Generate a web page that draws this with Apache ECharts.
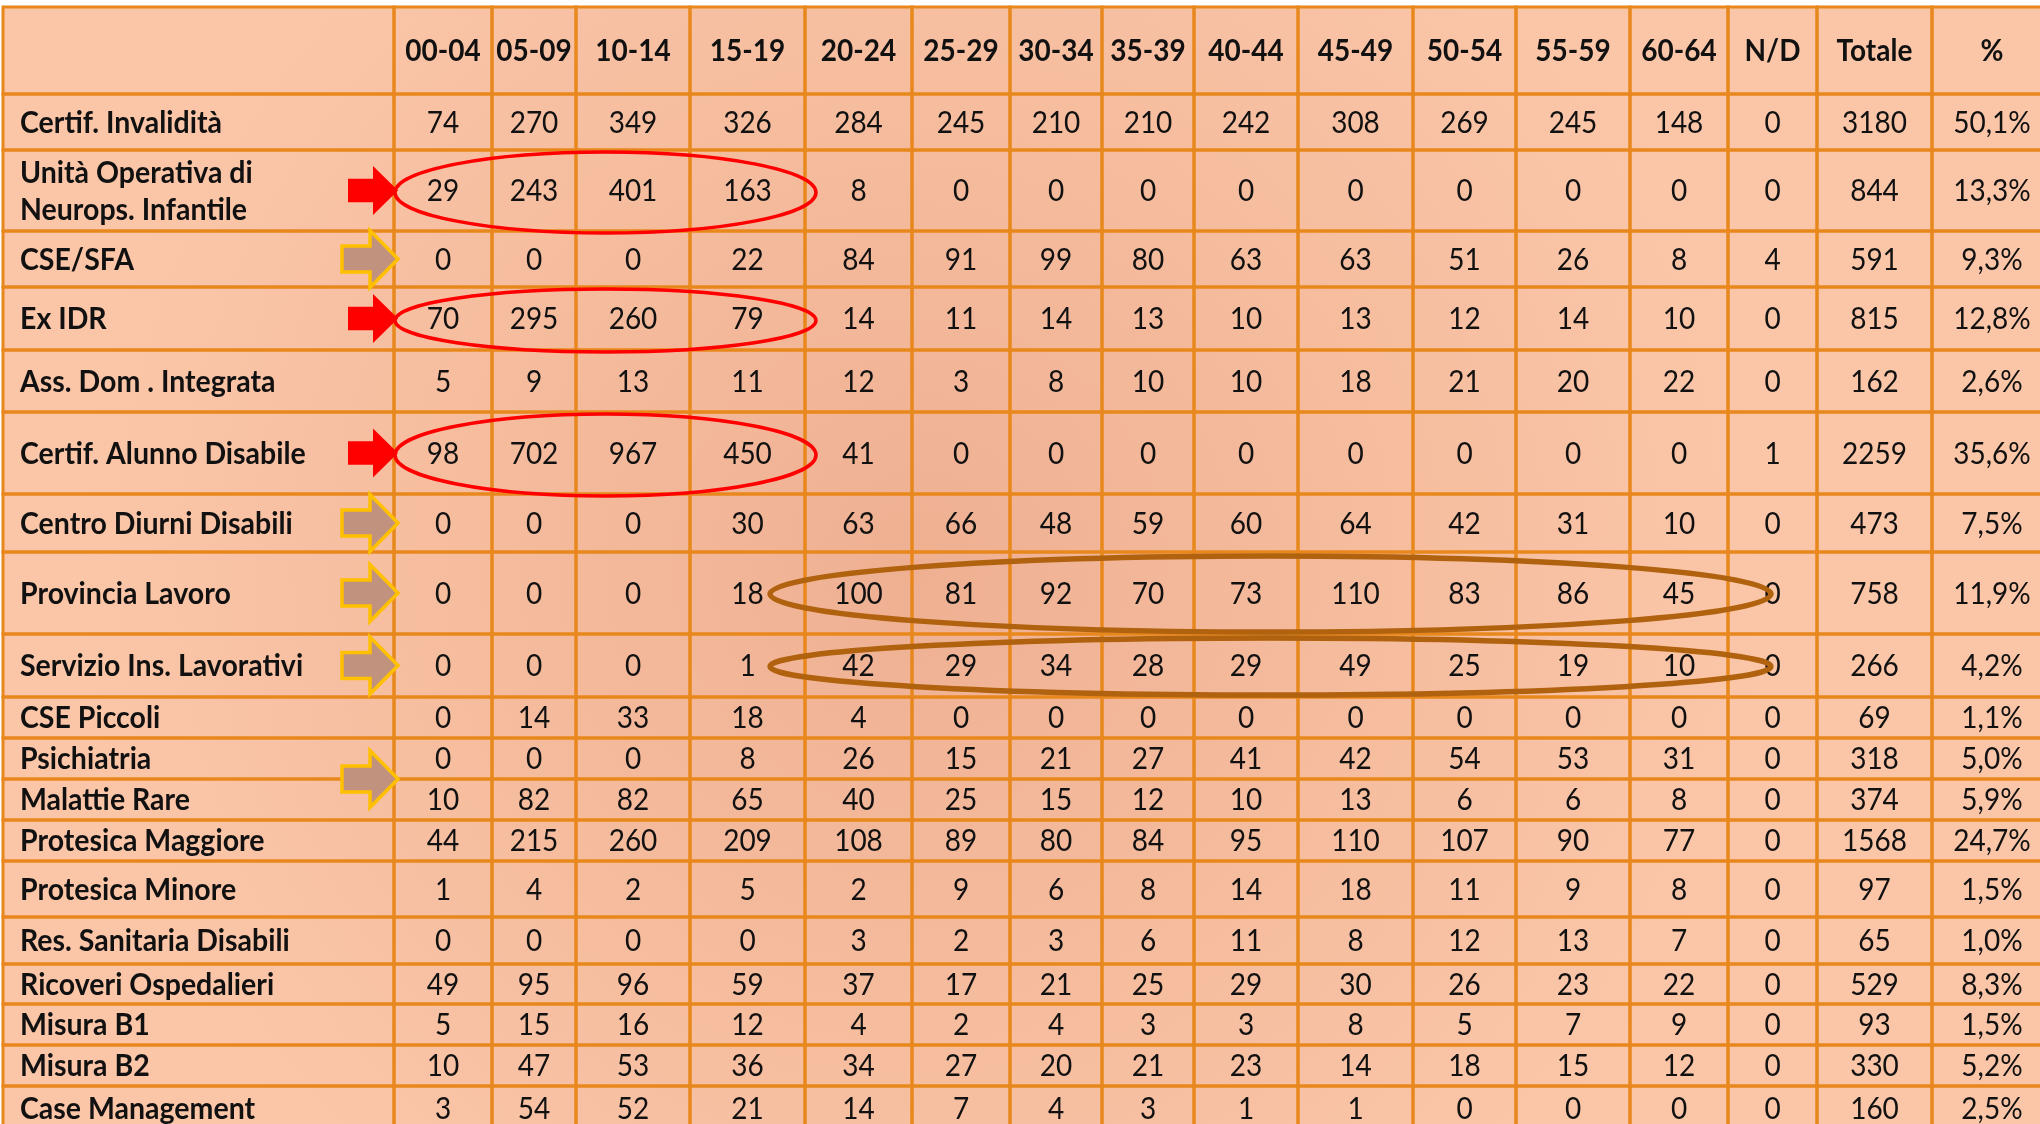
<!DOCTYPE html>
<html>
<head>
<meta charset="utf-8">
<script src="https://cdn.jsdelivr.net/npm/echarts@6/dist/echarts.min.js"></script>
<style>
html, body { margin: 0; padding: 0; background: #fff; }
#chart { width: 2040px; height: 1124px; }
</style>
</head>
<body>
<div id="chart"></div>
<script>
// fasce d'età (colonne)
var ageGroups = ['00-04', '05-09', '10-14', '15-19', '20-24', '25-29', '30-34', '35-39', '40-44', '45-49', '50-54', '55-59', '60-64', 'N/D'];
// servizi (righe)
var services = [
    'Certif. Invalidità',
    'Unità Operativa di\nNeurops. Infantile',
    'CSE/SFA',
    'Ex IDR',
    'Ass. Dom . Integrata',
    'Certif. Alunno Disabile',
    'Centro Diurni Disabili',
    'Provincia Lavoro',
    'Servizio Ins. Lavorativi',
    'CSE Piccoli',
    'Psichiatria',
    'Malattie Rare',
    'Protesica Maggiore',
    'Protesica Minore',
    'Res. Sanitaria Disabili',
    'Ricoveri Ospedalieri',
    'Misura B1',
    'Misura B2',
    'Case Management'
];
var counts = [
    [74, 270, 349, 326, 284, 245, 210, 210, 242, 308, 269, 245, 148, 0],
    [29, 243, 401, 163, 8, 0, 0, 0, 0, 0, 0, 0, 0, 0],
    [0, 0, 0, 22, 84, 91, 99, 80, 63, 63, 51, 26, 8, 4],
    [70, 295, 260, 79, 14, 11, 14, 13, 10, 13, 12, 14, 10, 0],
    [5, 9, 13, 11, 12, 3, 8, 10, 10, 18, 21, 20, 22, 0],
    [98, 702, 967, 450, 41, 0, 0, 0, 0, 0, 0, 0, 0, 1],
    [0, 0, 0, 30, 63, 66, 48, 59, 60, 64, 42, 31, 10, 0],
    [0, 0, 0, 18, 100, 81, 92, 70, 73, 110, 83, 86, 45, 0],
    [0, 0, 0, 1, 42, 29, 34, 28, 29, 49, 25, 19, 10, 0],
    [0, 14, 33, 18, 4, 0, 0, 0, 0, 0, 0, 0, 0, 0],
    [0, 0, 0, 8, 26, 15, 21, 27, 41, 42, 54, 53, 31, 0],
    [10, 82, 82, 65, 40, 25, 15, 12, 10, 13, 6, 6, 8, 0],
    [44, 215, 260, 209, 108, 89, 80, 84, 95, 110, 107, 90, 77, 0],
    [1, 4, 2, 5, 2, 9, 6, 8, 14, 18, 11, 9, 8, 0],
    [0, 0, 0, 0, 3, 2, 3, 6, 11, 8, 12, 13, 7, 0],
    [49, 95, 96, 59, 37, 17, 21, 25, 29, 30, 26, 23, 22, 0],
    [5, 15, 16, 12, 4, 2, 4, 3, 3, 8, 5, 7, 9, 0],
    [10, 47, 53, 36, 34, 27, 20, 21, 23, 14, 18, 15, 12, 0],
    [3, 54, 52, 21, 14, 7, 4, 3, 1, 1, 0, 0, 0, 0]
];
var totals = [3180, 844, 591, 815, 162, 2259, 473, 758, 266, 69, 318, 374, 1568, 97, 65, 529, 93, 330, 160];
var percents = ['50,1%', '13,3%', '9,3%', '12,8%', '2,6%', '35,6%', '7,5%', '11,9%', '4,2%', '1,1%', '5,0%', '5,9%', '24,7%', '1,5%', '1,0%', '8,3%', '1,5%', '5,2%', '2,5%'];

// evidenziazioni: righe con frecce e gruppi di colonne cerchiati
var redArrowRows = [1, 3, 5];
var brownArrowRows = [2, 6, 7, 8, 10.5];
var redCircled = { rows: [1, 3, 5], from: 0, to: 3 };
var brownCircled = { rows: [7, 8], from: 4, to: 12 };

var headers = [''].concat(ageGroups, ['Totale', '%']);

// griglia della tabella (px)
var colEdges = [3, 394, 492, 576, 690, 805, 912, 1010, 1102, 1194, 1298, 1413, 1516, 1630, 1728, 1817, 1932, 2052];
var rowEdges = [7, 94, 150, 231, 287, 350, 412, 494, 552, 634, 697, 738, 779, 820, 861, 917, 964, 1004, 1045, 1086, 1130];

var FONT = 'Lato';
var LINE = '#e8871c';

function cellText(c, r) {
    if (r === 0) return headers[c];
    var i = r - 1;
    if (c === 0) return services[i];
    if (c <= ageGroups.length) return String(counts[i][c - 1]);
    if (c === ageGroups.length + 1) return String(totals[i]);
    return percents[i];
}

var cellData = [];
for (var r = 0; r < rowEdges.length - 1; r++) {
    for (var c = 0; c < colEdges.length - 1; c++) {
        cellData.push([c, r]);
    }
}

function renderCell(params, api) {
    var c = api.value(0), r = api.value(1);
    var p0 = api.coord([colEdges[c], rowEdges[r]]);
    var p1 = api.coord([colEdges[c + 1], rowEdges[r + 1]]);
    var isLabel = c === 0 && r > 0;
    var bold = r === 0 || isLabel;
    return {
        type: 'group',
        children: [{
            type: 'rect',
            shape: { x: p0[0], y: p0[1], width: p1[0] - p0[0], height: p1[1] - p0[1] },
            style: { fill: 'none', stroke: LINE, lineWidth: 3 }
        }, {
            type: 'text',
            x: isLabel ? p0[0] + 17 : (p0[0] + p1[0]) / 2,
            y: (p0[1] + p1[1]) / 2 + 1,
            scaleY: isLabel ? 1.08 : 1.1,
            style: {
                text: cellText(c, r),
                fill: '#111',
                fontFamily: FONT,
                fontWeight: bold ? 'bold' : 'normal',
                fontSize: isLabel ? 28.5 : 28,
                lineHeight: 35,
                align: isLabel ? 'left' : 'center',
                verticalAlign: 'middle'
            }
        }]
    };
}

// y al centro della riga (x.5 = bordo tra due righe)
function rowMid(row) {
    var t = Math.floor(row) + 1;
    if (row % 1) return rowEdges[t + 1];
    return (rowEdges[t] + rowEdges[t + 1]) / 2;
}

var arrowData = [];
redArrowRows.forEach(function (row) { arrowData.push([row, 0]); });
brownArrowRows.forEach(function (row) { arrowData.push([row, 1]); });

function renderArrow(params, api) {
    var row = api.value(0), brown = api.value(1) === 1;
    var tip = api.coord([colEdges[1] + 4, rowMid(row)]);
    var w = brown ? 56 : 50, h = brown ? 57 : 49;
    var head = brown ? 28 : 25, sh = (brown ? 0.46 : 0.48) * h / 2;
    var tx = tip[0], ty = tip[1];
    return {
        type: 'polygon',
        shape: { points: [
            [tx - w, ty - sh], [tx - head, ty - sh], [tx - head, ty - h / 2], [tx, ty],
            [tx - head, ty + h / 2], [tx - head, ty + sh], [tx - w, ty + sh]
        ] },
        style: brown
            ? { fill: '#c1937f', stroke: '#ffc000', lineWidth: 3.5, lineJoin: 'miter' }
            : { fill: '#ff0000' }
    };
}

var ellipseData = [];
redCircled.rows.forEach(function (row) { ellipseData.push([row, redCircled.from, redCircled.to, 0]); });
brownCircled.rows.forEach(function (row) { ellipseData.push([row, brownCircled.from, brownCircled.to, 1]); });

function renderEllipse(params, api) {
    var row = api.value(0), brown = api.value(3) === 1;
    var p0 = api.coord([colEdges[api.value(1) + 1], rowEdges[row + 1]]);
    var p1 = api.coord([colEdges[api.value(2) + 2], rowEdges[row + 2]]);
    var halfW = (p1[0] - p0[0]) / 2, halfH = (p1[1] - p0[1]) / 2;
    return {
        type: 'ellipse',
        shape: {
            cx: (p0[0] + p1[0]) / 2 + (brown ? 4 : 6),
            cy: (p0[1] + p1[1]) / 2 + (brown ? 1 : 2),
            rx: halfW + (brown ? 39 : 5),
            ry: halfH - (brown ? 3 : 0)
        },
        style: brown
            ? { fill: 'none', stroke: '#b0620f', lineWidth: 5.5 }
            : { fill: 'none', stroke: '#ff0000', lineWidth: 3.5 }
    };
}

var chart = echarts.init(document.getElementById('chart'));
chart.setOption({
    backgroundColor: '#fff',
    animation: false,
    grid: { left: 0, right: 0, top: 0, bottom: 0 },
    xAxis: { type: 'value', min: 0, max: 2040, show: false },
    yAxis: { type: 'value', min: 0, max: 1124, inverse: true, show: false },
    graphic: [{
        type: 'rect',
        z: -10,
        shape: { x: colEdges[0], y: rowEdges[0], width: 2040 - colEdges[0], height: 1124 - rowEdges[0] },
        style: {
            fill: {
                type: 'radial', x: 0.45, y: 0.5, r: 0.75,
                colorStops: [{ offset: 0, color: '#efb092' }, { offset: 1, color: '#fbc6a8' }]
            }
        }
    }],
    series: [{
        type: 'custom',
        name: 'tabella',
        clip: false,
        silent: true,
        encode: { x: 0, y: 1 },
        renderItem: renderCell,
        data: cellData,
        z: 2
    }, {
        type: 'custom',
        name: 'frecce',
        clip: false,
        silent: true,
        renderItem: renderArrow,
        data: arrowData,
        z: 3
    }, {
        type: 'custom',
        name: 'ellissi',
        clip: false,
        silent: true,
        renderItem: renderEllipse,
        data: ellipseData,
        z: 4
    }]
});
</script>
</body>
</html>
